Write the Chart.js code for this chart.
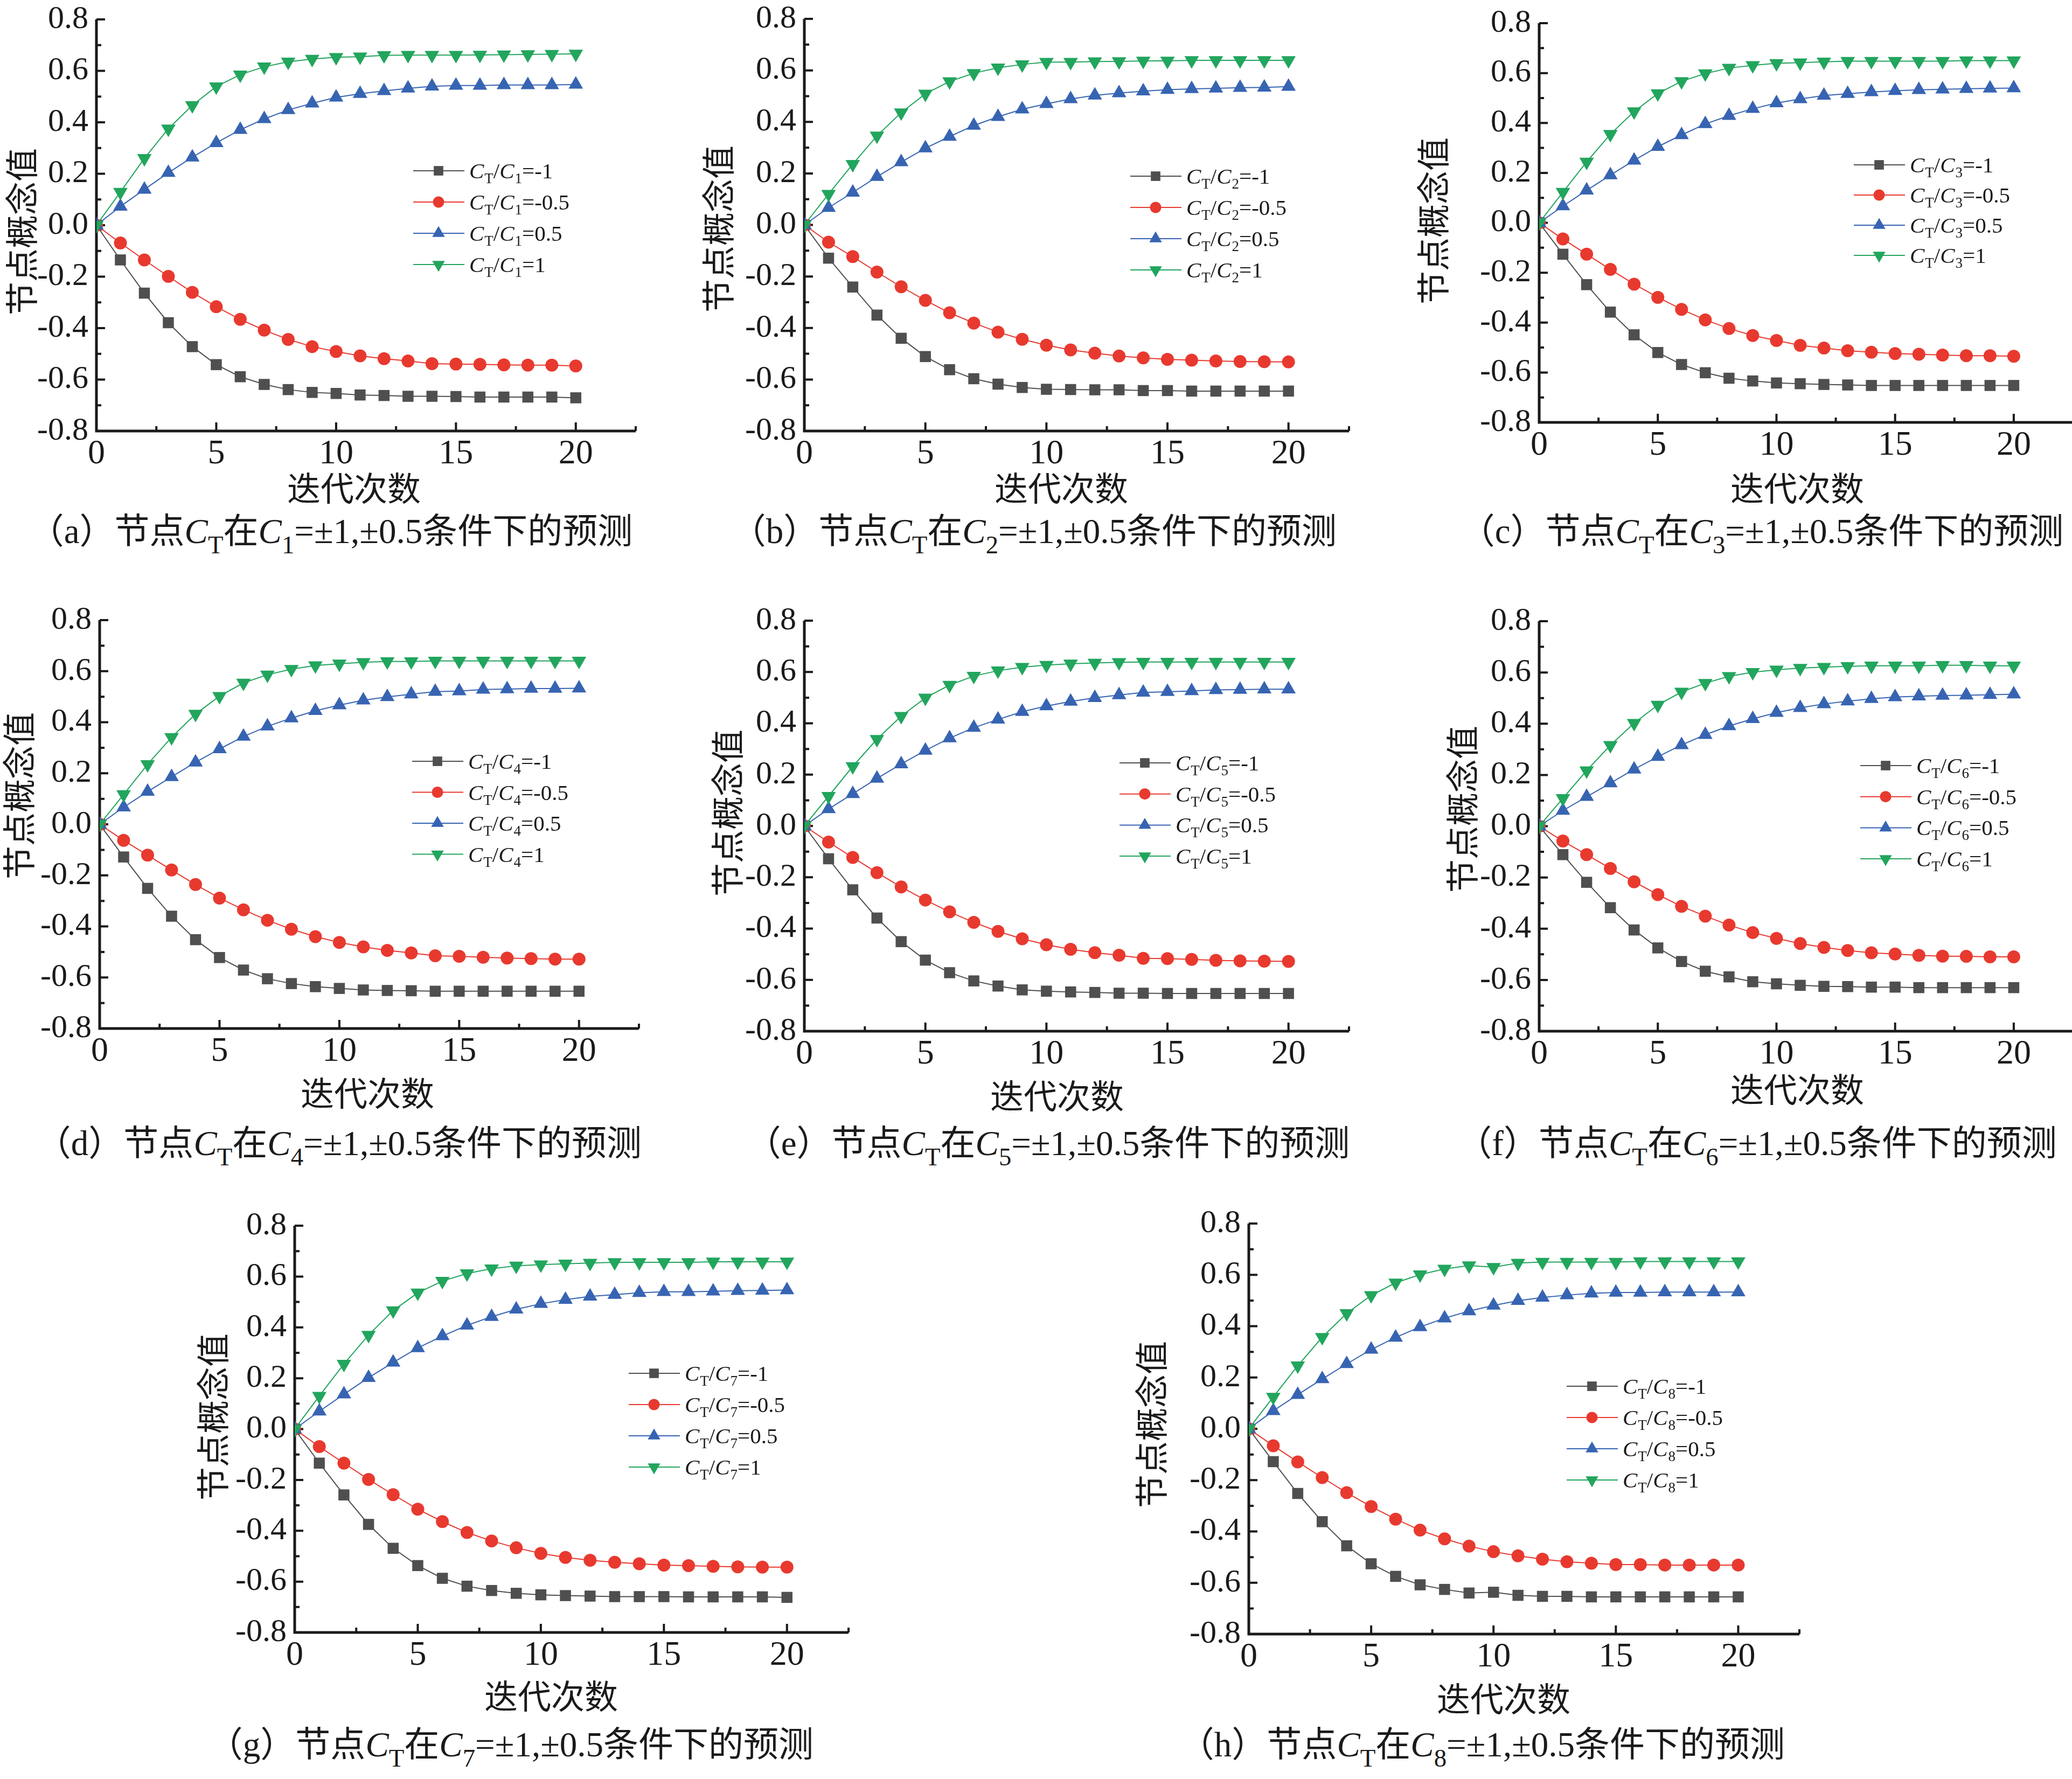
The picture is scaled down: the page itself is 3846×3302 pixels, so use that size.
<!DOCTYPE html>
<html>
<head>
<meta charset="utf-8">
<script src="https://cdn.jsdelivr.net/npm/chart.js@4.4.1/dist/chart.umd.min.js"></script>
<style>
html, body { margin:0; padding:0; background:#fff; width:3846px; height:3302px; overflow:hidden; }
canvas { position:absolute; }
.lbl { position:absolute; white-space:nowrap; line-height:1; color:#1a1a1a;
       font-family:"Liberation Serif","Noto Sans CJK SC",serif; transform:translate(-50%,-50%); }
.ytitle { font-size:62px; font-family:"Noto Sans CJK SC"; transform:translate(-50%,-50%) rotate(-90deg); }
.xtitle { font-size:62px; font-family:"Noto Sans CJK SC"; }
.cap { font-size:65px; }
.cap sub { font-size:0.72em; vertical-align:-0.42em; line-height:0; }
</style>
</head>
<body>
<script>
// iterations (x values) and tick values
const iterations = [0,1,2,3,4,5,6,7,8,9,10,11,12,13,14,15,16,17,18,19,20];
const xTickValues = [0,5,10,15,20];
const xMinorValues = [2.5,7.5,12.5,17.5,22.5];
const yTickValues = [-0.8,-0.6,-0.4,-0.2,0,0.2,0.4,0.6,0.8];
const yMinorValues = [-0.7,-0.5,-0.3,-0.1,0.1,0.3,0.5,0.7];
const ratioLabels = ['-1','-0.5','0.5','1'];

// (a) C1
const a_m1  = [0,-0.135,-0.264,-0.379,-0.472,-0.542,-0.589,-0.619,-0.639,-0.650,-0.654,-0.660,-0.662,-0.665,-0.665,-0.666,-0.668,-0.668,-0.668,-0.668,-0.671];
const a_m05 = [0,-0.069,-0.135,-0.199,-0.261,-0.317,-0.366,-0.408,-0.444,-0.472,-0.491,-0.508,-0.519,-0.528,-0.538,-0.540,-0.541,-0.543,-0.544,-0.544,-0.547];
const a_p05 = [0,0.073,0.139,0.204,0.264,0.320,0.371,0.413,0.448,0.474,0.497,0.511,0.522,0.532,0.540,0.543,0.543,0.545,0.545,0.545,0.547];
const a_p1  = [0,0.129,0.260,0.375,0.466,0.539,0.585,0.616,0.635,0.646,0.653,0.655,0.660,0.661,0.661,0.661,0.662,0.663,0.664,0.665,0.666];
// (b) C2
const b_m1  = [0,-0.129,-0.241,-0.350,-0.440,-0.511,-0.562,-0.597,-0.618,-0.631,-0.638,-0.639,-0.640,-0.640,-0.643,-0.643,-0.645,-0.645,-0.645,-0.645,-0.645];
const b_m05 = [0,-0.067,-0.123,-0.183,-0.240,-0.293,-0.341,-0.381,-0.416,-0.444,-0.467,-0.485,-0.498,-0.509,-0.516,-0.522,-0.525,-0.528,-0.530,-0.531,-0.532];
const b_p05 = [0,0.067,0.126,0.187,0.244,0.298,0.343,0.386,0.420,0.449,0.470,0.489,0.503,0.512,0.519,0.525,0.528,0.530,0.533,0.534,0.537];
const b_p1  = [0,0.120,0.236,0.346,0.436,0.509,0.557,0.589,0.610,0.623,0.632,0.632,0.634,0.635,0.637,0.637,0.639,0.639,0.639,0.639,0.639];
// (c) C3
const c_m1  = [0,-0.126,-0.248,-0.358,-0.449,-0.520,-0.568,-0.601,-0.623,-0.634,-0.642,-0.645,-0.648,-0.650,-0.652,-0.652,-0.652,-0.652,-0.652,-0.652,-0.652];
const c_m05 = [0,-0.065,-0.126,-0.187,-0.246,-0.299,-0.347,-0.389,-0.424,-0.452,-0.472,-0.491,-0.502,-0.513,-0.519,-0.524,-0.527,-0.530,-0.533,-0.533,-0.535];
const c_p05 = [0,0.067,0.130,0.191,0.250,0.305,0.352,0.396,0.429,0.457,0.480,0.496,0.510,0.517,0.524,0.529,0.533,0.535,0.537,0.539,0.540];
const c_p1  = [0,0.123,0.244,0.355,0.446,0.518,0.567,0.598,0.620,0.631,0.639,0.642,0.645,0.648,0.648,0.648,0.648,0.648,0.650,0.650,0.650];
// (d) C4
const d_m1  = [0,-0.128,-0.251,-0.360,-0.452,-0.522,-0.571,-0.605,-0.624,-0.636,-0.643,-0.649,-0.651,-0.652,-0.654,-0.654,-0.654,-0.654,-0.654,-0.654,-0.654];
const d_m05 = [0,-0.063,-0.121,-0.179,-0.236,-0.289,-0.335,-0.376,-0.411,-0.440,-0.463,-0.480,-0.494,-0.504,-0.515,-0.517,-0.521,-0.524,-0.526,-0.528,-0.528];
const d_p05 = [0,0.067,0.128,0.186,0.243,0.295,0.344,0.384,0.416,0.445,0.467,0.486,0.499,0.510,0.520,0.522,0.528,0.530,0.532,0.532,0.533];
const d_p1  = [0,0.117,0.235,0.341,0.432,0.502,0.554,0.586,0.608,0.622,0.629,0.635,0.638,0.638,0.640,0.640,0.640,0.640,0.640,0.640,0.640];
// (e) C5
const e_m1  = [0,-0.128,-0.249,-0.359,-0.451,-0.523,-0.572,-0.604,-0.624,-0.639,-0.644,-0.647,-0.649,-0.652,-0.652,-0.653,-0.653,-0.653,-0.653,-0.653,-0.653];
const e_m05 = [0,-0.063,-0.123,-0.182,-0.238,-0.289,-0.335,-0.376,-0.411,-0.440,-0.463,-0.481,-0.494,-0.504,-0.516,-0.517,-0.520,-0.524,-0.526,-0.527,-0.528];
const e_p05 = [0,0.066,0.125,0.185,0.241,0.294,0.342,0.383,0.415,0.445,0.467,0.485,0.499,0.510,0.520,0.523,0.526,0.530,0.531,0.533,0.533];
const e_p1  = [0,0.116,0.232,0.338,0.428,0.499,0.549,0.584,0.605,0.619,0.627,0.632,0.635,0.638,0.639,0.639,0.639,0.639,0.639,0.639,0.639];
// (f) C6
const f_m1  = [0,-0.111,-0.219,-0.318,-0.405,-0.475,-0.528,-0.566,-0.588,-0.607,-0.615,-0.621,-0.625,-0.626,-0.628,-0.628,-0.630,-0.630,-0.630,-0.630,-0.630];
const f_m05 = [0,-0.058,-0.111,-0.165,-0.217,-0.267,-0.313,-0.351,-0.386,-0.415,-0.438,-0.458,-0.473,-0.485,-0.494,-0.499,-0.504,-0.507,-0.508,-0.510,-0.510];
const f_p05 = [0,0.061,0.115,0.168,0.222,0.271,0.317,0.357,0.391,0.419,0.443,0.462,0.477,0.488,0.497,0.504,0.507,0.510,0.511,0.513,0.515];
const f_p1  = [0,0.109,0.217,0.316,0.402,0.473,0.524,0.558,0.585,0.601,0.610,0.617,0.621,0.624,0.626,0.626,0.626,0.628,0.628,0.626,0.626];
// (g) C7
const g_m1  = [0,-0.134,-0.259,-0.375,-0.469,-0.537,-0.587,-0.618,-0.635,-0.646,-0.652,-0.655,-0.657,-0.659,-0.659,-0.659,-0.660,-0.660,-0.660,-0.660,-0.662];
const g_m05 = [0,-0.069,-0.134,-0.198,-0.258,-0.315,-0.364,-0.407,-0.440,-0.467,-0.489,-0.505,-0.516,-0.524,-0.530,-0.535,-0.537,-0.540,-0.542,-0.543,-0.543];
const g_p05 = [0,0.070,0.137,0.202,0.262,0.319,0.366,0.408,0.442,0.471,0.493,0.509,0.522,0.529,0.536,0.540,0.540,0.542,0.544,0.545,0.547];
const g_p1  = [0,0.130,0.256,0.370,0.466,0.536,0.582,0.612,0.631,0.642,0.647,0.650,0.653,0.656,0.656,0.656,0.656,0.658,0.658,0.658,0.658];
// (h) C8
const h_m1  = [0,-0.128,-0.252,-0.362,-0.456,-0.526,-0.575,-0.608,-0.626,-0.640,-0.637,-0.649,-0.653,-0.653,-0.655,-0.655,-0.655,-0.655,-0.655,-0.655,-0.655];
const h_m05 = [0,-0.066,-0.129,-0.190,-0.249,-0.303,-0.352,-0.395,-0.429,-0.457,-0.479,-0.495,-0.508,-0.518,-0.524,-0.529,-0.529,-0.531,-0.531,-0.531,-0.531];
const h_p05 = [0,0.070,0.133,0.194,0.253,0.309,0.356,0.397,0.431,0.459,0.481,0.499,0.512,0.521,0.528,0.531,0.531,0.533,0.533,0.533,0.533];
const h_p1  = [0,0.124,0.246,0.357,0.450,0.520,0.569,0.601,0.623,0.636,0.630,0.646,0.650,0.650,0.650,0.650,0.652,0.652,0.652,0.652,0.652];

// series styles: C_T/C_i = -1, -0.5, 0.5, 1
const seriesStyle = [
  {color:'#4f4f4f', pointStyle:'rect',     rotation:0,   radius:14.5, legendRadius:12.5, order:4},
  {color:'#e8392f', pointStyle:'circle',   rotation:0,   radius:12,   legendRadius:10.5, order:3},
  {color:'#3764b2', pointStyle:'triangle', rotation:0,   radius:15.5, legendRadius:13.5, order:2},
  {color:'#22a55d', pointStyle:'triangle', rotation:180, radius:15.5, legendRadius:13.5, order:1}
];

// page layout of each panel (axis pixels, legend, titles, caption)
const panels = [
  {key:'a', sub:'1', series:[a_m1,a_m05,a_p05,a_p1], x0:179,  x20:1069, yTop:35,   yBot:800,  legend:[767,317,58],    ytitle:[37,430],   xtitle:[657,903],   caption:[614,986]},
  {key:'b', sub:'2', series:[b_m1,b_m05,b_p05,b_p1], x0:1493, x20:2392, yTop:34,   yBot:800,  legend:[2098,327,58],   ytitle:[1330,425], xtitle:[1970,903],  caption:[1919,986]},
  {key:'c', sub:'3', series:[c_m1,c_m05,c_p05,c_p1], x0:2857, x20:3738, yTop:42,   yBot:784,  legend:[3441,306,56],   ytitle:[2657,410], xtitle:[3336,903],  caption:[3270,986]},
  {key:'d', sub:'4', series:[d_m1,d_m05,d_p05,d_p1], x0:185,  x20:1075, yTop:1150, yBot:1909, legend:[765,1413,57.5], ytitle:[32,1477],  xtitle:[682,2026],  caption:[629,2122]},
  {key:'e', sub:'5', series:[e_m1,e_m05,e_p05,e_p1], x0:1493, x20:2392, yTop:1151, yBot:1914, legend:[2078,1416,57.7],ytitle:[1347,1509],xtitle:[1962,2031], caption:[1945,2122]},
  {key:'f', sub:'6', series:[f_m1,f_m05,f_p05,f_p1], x0:2857, x20:3738, yTop:1152, yBot:1914, legend:[3453,1421,57.7],ytitle:[2711,1502],xtitle:[3336,2019], caption:[3261,2122]},
  {key:'g', sub:'7', series:[g_m1,g_m05,g_p05,g_p1], x0:547,  x20:1461, yTop:2274, yBot:3030, legend:[1167,2549,58],  ytitle:[392,2630], xtitle:[1023,3145], caption:[948,3238]},
  {key:'h', sub:'8', series:[h_m1,h_m05,h_p05,h_p1], x0:2318, x20:3226, yTop:2270, yBot:3033, legend:[2908,2573,58],  ytitle:[2134,2644],xtitle:[2791,3150], caption:[2751,3238]}
];

const SERIF = '"Liberation Serif"';
const INK = '#1a1a1a';

/**
 * origin style axes: left + bottom lines, inward major / minor ticks
 */
const originAxes = {
  id: 'originAxes',
  beforeDatasetsDraw(chart) {
    const {ctx, scales: {x, y}} = chart;
    const px0 = x.getPixelForValue(0), pxEnd = x.getPixelForValue(22.5);
    const pyTop = y.getPixelForValue(0.8), pyBot = y.getPixelForValue(-0.8);
    ctx.save();
    ctx.strokeStyle = INK;
    ctx.lineWidth = 5;
    ctx.beginPath();
    ctx.moveTo(px0, pyTop); ctx.lineTo(px0, pyBot + 2.5);
    ctx.moveTo(px0 - 2.5, pyBot); ctx.lineTo(pxEnd, pyBot);
    ctx.stroke();
    ctx.lineWidth = 4;
    ctx.beginPath();
    yTickValues.forEach(v => { const py = y.getPixelForValue(v); ctx.moveTo(px0, py); ctx.lineTo(px0 + 16, py); });
    yMinorValues.forEach(v => { const py = y.getPixelForValue(v); ctx.moveTo(px0, py); ctx.lineTo(px0 + 9, py); });
    xTickValues.forEach(v => { const px = x.getPixelForValue(v); ctx.moveTo(px, pyBot); ctx.lineTo(px, pyBot - 16); });
    xMinorValues.forEach(v => { const px = x.getPixelForValue(v); ctx.moveTo(px, pyBot); ctx.lineTo(px, pyBot - 9); });
    ctx.stroke();
    ctx.restore();
  }
};

function drawRich(ctx, parts, x, y) {
  parts.forEach(p => {
    ctx.font = p.font;
    ctx.fillText(p.t, x, y + (p.dy || 0));
    x += ctx.measureText(p.t).width + (p.gap || 0);
  });
}

/**
 * legend with C_T / C_i labels (italic + subscripts)
 */
const ctLegend = {
  id: 'ctLegend',
  afterDraw(chart, args, opts) {
    const ctx = chart.ctx;
    ctx.save();
    chart.data.datasets.forEach((ds, i) => {
      const yy = opts.y + i * opts.dy;
      ctx.strokeStyle = ds.borderColor;
      ctx.lineWidth = 2;
      ctx.beginPath(); ctx.moveTo(opts.x, yy); ctx.lineTo(opts.x + 95, yy); ctx.stroke();
      ctx.fillStyle = ds.backgroundColor;
      Chart.helpers.drawPoint(ctx, {pointStyle: ds.pointStyle, rotation: ds.pointRotation, radius: ds.legendRadius, borderWidth: 0}, opts.x + 47, yy);
      ctx.fillStyle = INK;
      ctx.textBaseline = 'alphabetic';
      drawRich(ctx, [
        {t:'C', font:'italic 41px ' + SERIF, gap:1},
        {t:'T', font:'27px ' + SERIF, dy:9},
        {t:'/', font:'41px ' + SERIF},
        {t:'C', font:'italic 41px ' + SERIF, gap:1},
        {t:opts.sub, font:'27px ' + SERIF, dy:9},
        {t:'=' + ratioLabels[i], font:'41px ' + SERIF}
      ], opts.x + 104, yy + 14);
    });
    ctx.restore();
  }
};

function addLabel(cls, html, pos) {
  const d = document.createElement('div');
  d.className = 'lbl ' + cls;
  d.innerHTML = html;
  d.style.left = pos[0] + 'px';
  d.style.top = pos[1] + 'px';
  document.body.appendChild(d);
}

function makePanel(p) {
  const chartW = (p.x20 - p.x0) * 22.5 / 20;
  const left = p.x0 - 150, top = p.yTop - 50;
  const width = Math.round(150 + chartW + 20);
  const height = Math.round(50 + (p.yBot - p.yTop) + 90);
  const canvas = document.createElement('canvas');
  canvas.width = width; canvas.height = height;
  canvas.style.left = left + 'px'; canvas.style.top = top + 'px';
  canvas.style.width = width + 'px'; canvas.style.height = height + 'px';
  document.body.appendChild(canvas);

  const datasets = p.series.map((vals, i) => {
    const s = seriesStyle[i];
    return {
      data: iterations.map((it, j) => ({x: it, y: vals[j]})),
      borderColor: s.color,
      backgroundColor: s.color,
      borderWidth: 2,
      pointStyle: s.pointStyle,
      pointRotation: s.rotation,
      pointRadius: s.radius,
      pointBorderWidth: 0,
      legendRadius: s.legendRadius,
      tension: 0,
      order: s.order
    };
  });

  new Chart(canvas.getContext('2d'), {
    type: 'line',
    data: {datasets},
    options: {
      responsive: false,
      animation: false,
      devicePixelRatio: 1,
      layout: {padding: {top: 50, right: 20, left: 0, bottom: 0}},
      plugins: {
        legend: {display: false},
        tooltip: {enabled: false},
        ctLegend: {x: p.legend[0] - left, y: p.legend[1] - top, dy: p.legend[2], sub: p.sub}
      },
      scales: {
        x: {
          type: 'linear', min: 0, max: 22.5,
          grid: {display: false, drawTicks: false},
          border: {display: false},
          afterBuildTicks: sc => { sc.ticks = xTickValues.map(v => ({value: v})); },
          afterFit: sc => { sc.height = 90; },
          ticks: {autoSkip: false, maxRotation: 0, padding: 5, color: INK,
                  font: {family: 'Liberation Serif', size: 64},
                  callback: v => String(v)}
        },
        y: {
          type: 'linear', min: -0.8, max: 0.8,
          grid: {display: false, drawTicks: false},
          border: {display: false},
          afterBuildTicks: sc => { sc.ticks = yTickValues.map(v => ({value: v})); },
          afterFit: sc => { sc.width = 150; },
          ticks: {autoSkip: false, padding: 15, color: INK,
                  font: {family: 'Liberation Serif', size: 60},
                  callback: v => Number(v).toFixed(1)}
        }
      }
    },
    plugins: [originAxes, ctLegend]
  });

  addLabel('ytitle', '节点概念值', p.ytitle);
  addLabel('xtitle', '迭代次数', p.xtitle);
  addLabel('cap', '（' + p.key + '）节点<i>C</i><sub>T</sub>在<i>C</i><sub>' + p.sub +
           '</sub>=±1,±0.5条件下的预测', p.caption);
}

panels.forEach(makePanel);
</script>
</body>
</html>
